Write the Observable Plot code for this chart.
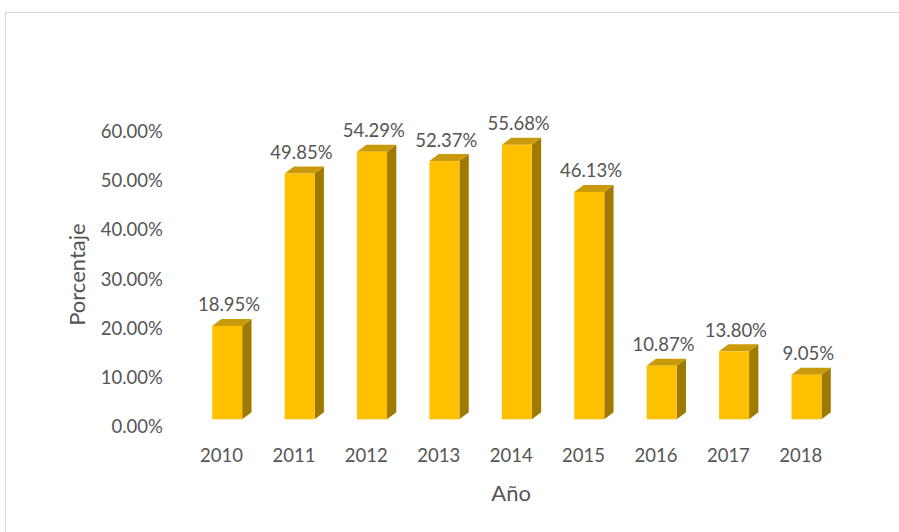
<!DOCTYPE html>
<html>
<head>
<meta charset="utf-8">
<script src="https://cdn.jsdelivr.net/npm/d3@7"></script>
<script src="https://cdn.jsdelivr.net/npm/@observablehq/plot@0.6"></script>
<style>
  html, body { margin: 0; padding: 0; background: #ffffff; overflow: hidden; }
  #wrap { position: relative; width: 899px; height: 532px; }
  #wrap svg { display: block; }
  #border { position: absolute; left: 5px; top: 12px; width: 900px; height: 530px;
            border-left: 1.5px solid #d9d9d9; border-top: 1.5px solid #d9d9d9; pointer-events: none; }
</style>
</head>
<body>
<div id="wrap"><div id="border"></div></div>
<script>
// ---- data ----
const years = ["2010", "2011", "2012", "2013", "2014", "2015", "2016", "2017", "2018"];
const values = [18.95, 49.85, 54.29, 52.37, 55.68, 46.13, 10.87, 13.80, 9.05];
const yTicks = [0, 10, 20, 30, 40, 50, 60];
const valueLabels = ["18.95%", "49.85%", "54.29%", "52.37%", "55.68%", "46.13%", "10.87%", "13.80%", "9.05%"];

// ---- layout (pixels) ----
const W = 899, H = 532;
const mL = 184.8, mR = 62.5, mT = 131.2, mB = 105;
const pxPerCat = (W - mL - mR) / years.length;
const pxPerPct = (H - mT - mB) / 60;
const FRONT_LEFT = -8.8, FRONT_RIGHT = 21.2, DEPTH_X = 9.3, DEPTH_Y = 7, LIFT = -7.7;
const cx = px => px / pxPerCat, cy = px => px / pxPerPct;

const bars = years.map((yr, i) => ({i, yr, v: values[i], label: valueLabels[i]}));
const sideFaces = bars.flatMap(b => [
  {i: b.i, x: b.i + cx(FRONT_RIGHT), y1: 0, y2: b.v},
  {i: b.i, x: b.i + cx(FRONT_RIGHT + DEPTH_X), y1: cy(DEPTH_Y), y2: b.v + cy(DEPTH_Y)}
]);
const topFaces = bars.flatMap(b => [
  {i: b.i, y: b.v, x1: b.i + cx(FRONT_LEFT), x2: b.i + cx(FRONT_RIGHT)},
  {i: b.i, y: b.v + cy(DEPTH_Y), x1: b.i + cx(FRONT_LEFT + DEPTH_X), x2: b.i + cx(FRONT_RIGHT + DEPTH_X)}
]);

const textColor = "#555555";
const fs = 18.5;
const titleFs = 22;

const chart = Plot.plot({
  width: W, height: H,
  marginLeft: mL, marginRight: mR, marginTop: mT, marginBottom: mB,
  style: {fontFamily: "Lato, 'Open Sans', sans-serif", fontSize: fs + "px", color: textColor, background: "transparent"},
  x: {type: "linear", domain: [-0.5, years.length - 0.5]},
  y: {type: "linear", domain: [0, 60]},
  marks: [
    Plot.axisY({ticks: yTicks, tickFormat: d => d.toFixed(2) + "%", tickSize: 0, tickPadding: 22.5,
                fontSize: fs, fill: textColor, label: null}),
    Plot.axisX({ticks: d3.range(years.length), tickFormat: i => years[i], tickSize: 0, tickPadding: 21,
                fontSize: fs, fill: textColor, label: null}),
    Plot.areaY(sideFaces, {x: "x", y1: "y1", y2: "y2", z: "i", fill: "#A07A00", dy: LIFT}),
    Plot.areaX(topFaces, {y: "y", x1: "x1", x2: "x2", z: "i", fill: "#C99A0C", dy: LIFT}),
    Plot.rect(bars, {x1: d => d.i + cx(FRONT_LEFT), x2: d => d.i + cx(FRONT_RIGHT), y1: d => 0, y2: "v",
                     fill: "#FFC000", dy: LIFT}),
    Plot.text(bars, {x: d => d.i + cx(7.5), y: "v", text: "label", dy: LIFT - 21, lineAnchor: "middle",
                     fontSize: fs, fill: textColor}),
    Plot.text(["Año"], {frameAnchor: "bottom", dx: 0, dy: 66, lineAnchor: "middle", textAnchor: "middle",
                        fontSize: titleFs, fill: textColor}),
    Plot.text(["Porcentaje"], {frameAnchor: "left", dx: 77.5 - mL, dy: -5, rotate: -90, lineAnchor: "middle",
                               textAnchor: "middle", fontSize: titleFs, fill: textColor})
  ]
});
document.getElementById("wrap").prepend(chart);
</script>
</body>
</html>
